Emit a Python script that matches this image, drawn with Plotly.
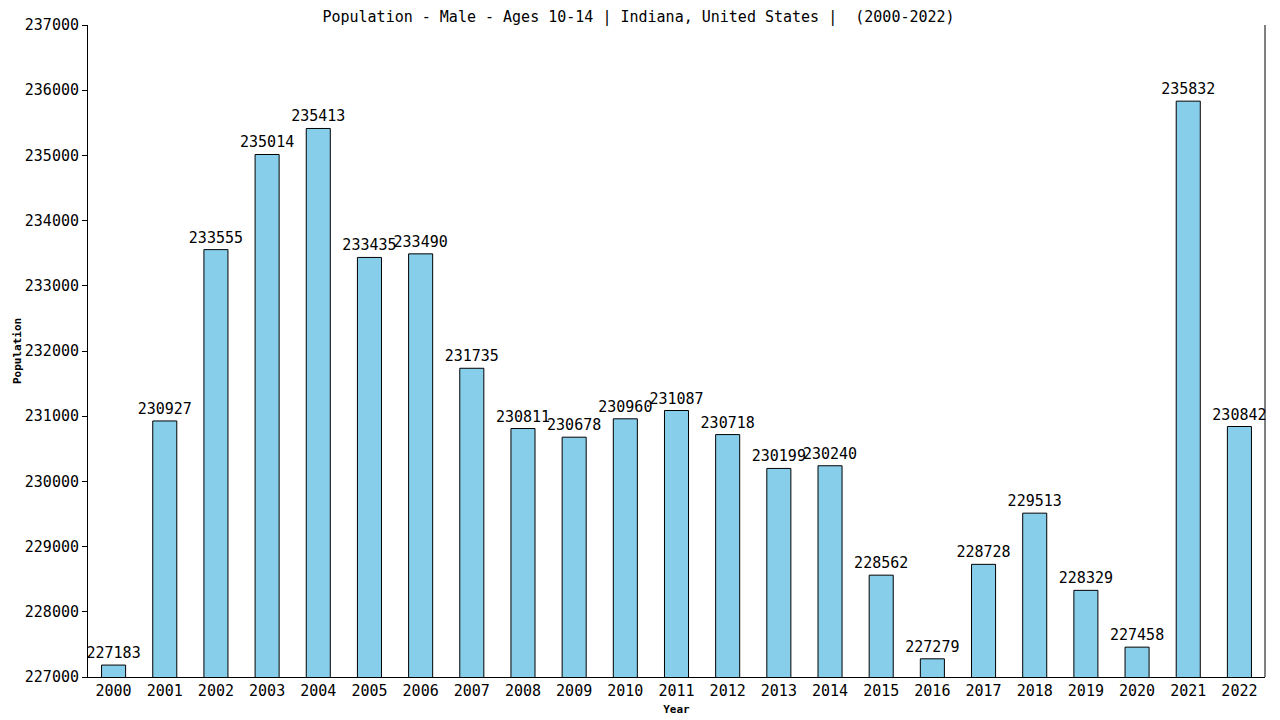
import plotly.graph_objects as go

years = [str(y) for y in range(2000, 2023)]
population = [227183, 230927, 233555, 235014, 235413, 233435, 233490, 231735,
              230811, 230678, 230960, 231087, 230718, 230199, 230240, 228562,
              227279, 228728, 229513, 228329, 227458, 235832, 230842]
title_text = "Population - Male - Ages 10-14 | Indiana, United States |  (2000-2022)"

font_family = "DejaVu Sans Mono"

fig = go.Figure()
fig.add_trace(go.Bar(
    x=years, y=population,
    marker=dict(color="#87CEEB", line=dict(color="black", width=1)),
    text=[str(v) for v in population],
    textposition="outside",
    constraintext="none",
    textfont=dict(family=font_family, size=15, color="black"),
    cliponaxis=False,
    width=0.47,
))

fig.update_layout(
    width=1280, height=720,
    margin=dict(l=80, r=23, t=17, b=51, autoexpand=False),
    paper_bgcolor="white", plot_bgcolor="white",
    title=dict(text=title_text, x=0.4926, xanchor="center", y=0.9875, yanchor="middle",
               pad=dict(t=0, b=0),
               font=dict(family=font_family, size=15, color="black")),
    showlegend=False,
    xaxis=dict(
        type="category", showline=True, linecolor="black", linewidth=1,
        ticks="", showgrid=False, automargin=False,
        tickfont=dict(family=font_family, size=15, color="black"),
        title=dict(text="<b>Year</b>", font=dict(family=font_family, size=11, color="black"), standoff=6),
    ),
    yaxis=dict(
        range=[227000, 237000], dtick=1000, tick0=227000,
        showline=True, linecolor="black", linewidth=1,
        ticks="outside", ticklen=5, tickcolor="black",
        showgrid=False, zeroline=False, automargin=False,
        tickformat="d",
        tickfont=dict(family=font_family, size=15, color="black"),
        title=dict(text="<b>Population</b>", font=dict(family=font_family, size=11, color="black"), standoff=0),
    ),
)
fig.add_shape(type="line", xref="paper", yref="paper", x0=1, x1=1, y0=0, y1=1,
              line=dict(color="black", width=1))

fig.write_html("out.html")
